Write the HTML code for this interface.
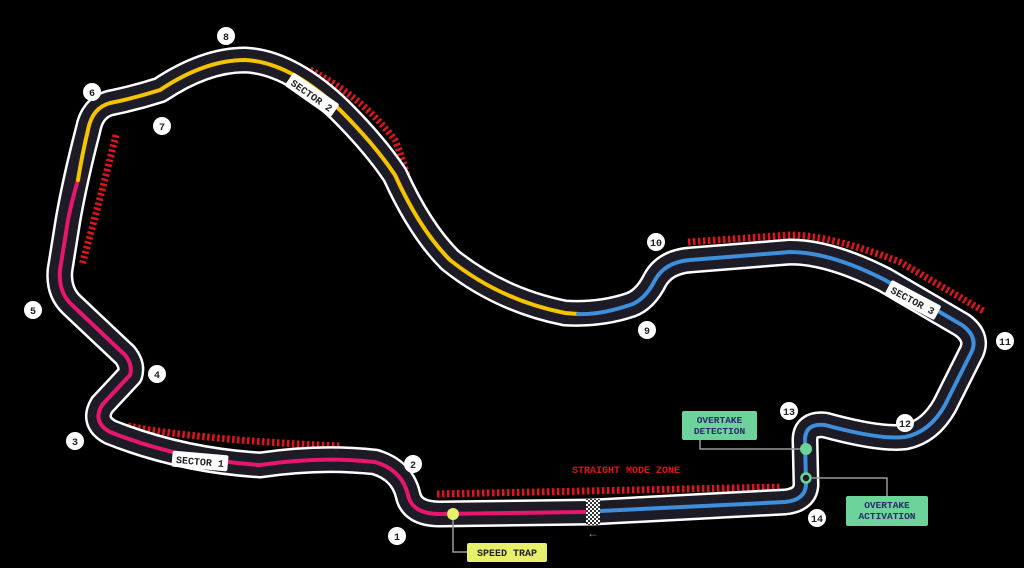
<!DOCTYPE html>
<html><head><meta charset="utf-8"><style>
html,body{margin:0;padding:0;background:#000;width:1024px;height:568px;overflow:hidden}
svg{display:block}
text{font-family:"Liberation Mono","DejaVu Sans Mono",monospace;font-weight:bold}
</style></head><body>
<svg width="1024" height="568" viewBox="0 0 1024 568">
<defs>
<pattern id="chk" width="4" height="4" patternUnits="userSpaceOnUse"><rect width="4" height="4" fill="#fff"/><rect width="2" height="2" fill="#333"/><rect x="2" y="2" width="2" height="2" fill="#333"/></pattern>
</defs>
<!-- kerbs -->
<g fill="none" stroke="#e0141a" stroke-width="7" stroke-dasharray="2.5 2.5">
<path d="M310 70 Q360 95 395 140 Q410 175 420 240"/>
<path d="M116 135 Q100 200 82 265"/>
<path d="M128 426 Q200 440 340 446"/>
<path d="M437 494 L780 487"/>
<path d="M688 242 L790 235 Q830 235 900 262 L985 312"/>
</g>
<!-- track -->
<path d="M593 512 L440 514 Q412 514 408 495 Q402 470 375 462 Q320 456 260 465 Q180 460 110 432 Q92 422 102 405 L130 375 Q133 365 125 355 L72 305 Q58 292 60 270 L68 220 Q75 180 88 130 Q92 108 110 103 Q135 98 160 90 Q205 60 245 60 Q290 62 340 110 Q375 145 395 175 Q420 230 450 260 Q500 300 565 313 Q600 315 630 305 Q645 300 655 280 Q665 262 690 260 L790 252 Q830 252 885 280 L962 325 Q980 338 970 355 L945 405 Q930 432 905 437 Q880 440 825 425 Q805 423 805 440 L806 485 Q805 500 785 502 Z" fill="none" stroke="#fff" stroke-width="27" stroke-linejoin="round"/>
<path d="M593 512 L440 514 Q412 514 408 495 Q402 470 375 462 Q320 456 260 465 Q180 460 110 432 Q92 422 102 405 L130 375 Q133 365 125 355 L72 305 Q58 292 60 270 L68 220 Q75 180 88 130 Q92 108 110 103 Q135 98 160 90 Q205 60 245 60 Q290 62 340 110 Q375 145 395 175 Q420 230 450 260 Q500 300 565 313 Q600 315 630 305 Q645 300 655 280 Q665 262 690 260 L790 252 Q830 252 885 280 L962 325 Q980 338 970 355 L945 405 Q930 432 905 437 Q880 440 825 425 Q805 423 805 440 L806 485 Q805 500 785 502 Z" fill="none" stroke="#1c1b26" stroke-width="22" stroke-linejoin="round"/>
<g fill="none" stroke-width="4" stroke-linecap="round">
<path d="M585 512 L440 514 Q412 514 408 495 Q402 470 375 462 Q320 456 260 465 Q180 460 110 432 Q92 422 102 405 L130 375 Q133 365 125 355 L72 305 Q58 292 60 270 L68 220 Q72 200 78 180" stroke="#e8176e"/>
<path d="M78 180 Q82 155 88 130 Q92 108 110 103 Q135 98 160 90 Q205 60 245 60 Q290 62 340 110 Q375 145 395 175 Q420 230 450 260 Q500 300 565 313 L578 314" stroke="#f5c400"/>
<path d="M578 314 Q600 315 630 305 Q645 300 655 280 Q665 262 690 260 L790 252 Q830 252 885 280 L962 325 Q980 338 970 355 L945 405 Q930 432 905 437 Q880 440 825 425 Q805 423 805 440 L806 485 Q805 500 785 502 L600 511" stroke="#3d8fdc"/>
</g>
<rect x="586" y="499" width="14" height="26" fill="url(#chk)"/>
<text x="593" y="537" font-size="12" fill="#888" text-anchor="middle" font-family="DejaVu Sans">←</text>
<!-- sector labels -->
<g transform="translate(200,461) rotate(5)"><rect x="-28" y="-8" width="56" height="16" rx="2" fill="#fff"/><text y="4" font-size="10" text-anchor="middle" fill="#222">SECTOR 1</text></g>
<g transform="translate(312,95) rotate(35)"><rect x="-28" y="-8" width="56" height="16" rx="2" fill="#fff"/><text y="4" font-size="10" text-anchor="middle" fill="#222">SECTOR 2</text></g>
<g transform="translate(913,300) rotate(28)"><rect x="-28" y="-8" width="56" height="16" rx="2" fill="#fff"/><text y="4" font-size="10" text-anchor="middle" fill="#222">SECTOR 3</text></g>
<!-- turn numbers -->
<g font-size="10" text-anchor="middle" fill="#222">
<g fill="#fff"><circle cx="397" cy="536" r="9"/><circle cx="413" cy="464" r="9"/><circle cx="75" cy="441" r="9"/><circle cx="157" cy="374" r="9"/><circle cx="33" cy="310" r="9"/><circle cx="92" cy="92" r="9"/><circle cx="162" cy="126" r="9"/><circle cx="226" cy="36" r="9"/><circle cx="647" cy="330" r="9"/><circle cx="656" cy="242" r="9"/><circle cx="1005" cy="341" r="9"/><circle cx="905" cy="423" r="9"/><circle cx="789" cy="411" r="9"/><circle cx="817" cy="518" r="9"/></g>
<text x="397" y="540">1</text><text x="413" y="468">2</text><text x="75" y="445">3</text><text x="157" y="378">4</text><text x="33" y="314">5</text><text x="92" y="96">6</text><text x="162" y="130">7</text><text x="226" y="40">8</text><text x="647" y="334">9</text><text x="656" y="246">10</text><text x="1005" y="345">11</text><text x="905" y="427">12</text><text x="789" y="415">13</text><text x="817" y="522">14</text>
</g>
<!-- callouts -->
<g fill="none" stroke="#999" stroke-width="1.5">
<path d="M453 514 V552 H467"/><path d="M700 440 V449 H800"/><path d="M812 478 H887 V496"/>
</g>
<circle cx="453" cy="514" r="6" fill="#e7f06a"/>
<circle cx="806" cy="449" r="6" fill="#6cd39a"/>
<circle cx="806" cy="478" r="4.5" fill="#1c1b26" stroke="#6cd39a" stroke-width="2.5"/>
<rect x="467" y="543" width="80" height="19" rx="2" fill="#e7f06a"/>
<text x="507" y="556" font-size="10" text-anchor="middle" fill="#222">SPEED TRAP</text>
<rect x="682" y="411" width="75" height="29" rx="2" fill="#6cd39a"/>
<text x="719.5" y="423" font-size="9.5" text-anchor="middle" fill="#2a2a6a">OVERTAKE</text>
<text x="719.5" y="434" font-size="9.5" text-anchor="middle" fill="#2a2a6a">DETECTION</text>
<rect x="846" y="496" width="82" height="30" rx="2" fill="#6cd39a"/>
<text x="887" y="508" font-size="9.5" text-anchor="middle" fill="#2a2a6a">OVERTAKE</text>
<text x="887" y="519" font-size="9.5" text-anchor="middle" fill="#2a2a6a">ACTIVATION</text>
<text x="626" y="473" font-size="10" text-anchor="middle" fill="#e0141a">STRAIGHT MODE ZONE</text>
</svg>
</body></html>
